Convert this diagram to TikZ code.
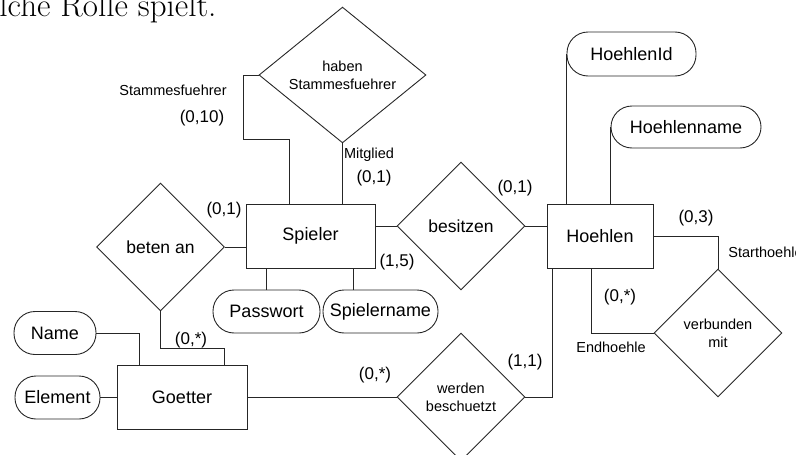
\documentclass[tikz,border=0pt]{standalone}
\usepackage{fontspec}
\usetikzlibrary{shapes.geometric}
\newfontfamily\arialf{Liberation Sans}
\begin{document}
\begin{tikzpicture}[x=1pt,y=-1pt, line width=0.9pt, draw=black!85,
  ent/.style={draw, rectangle, inner sep=0pt, font=\arialf\fontsize{18}{21}\selectfont},
  attr/.style={draw, rectangle, rounded corners=21pt, inner sep=0pt, minimum height=43pt, font=\arialf\fontsize{18}{21}\selectfont},
  rel/.style={draw, diamond, inner sep=0pt, minimum width=128pt, minimum height=128pt, align=center},
  relmain/.style={rel, font=\arialf\fontsize{17.5}{20}\selectfont},
  relsmall/.style={rel, font=\arialf\fontsize{14.5}{18}\selectfont},
  small/.style={inner sep=0pt, font=\arialf\fontsize{14.5}{17}\selectfont},
  card/.style={inner sep=0pt, font=\arialf\fontsize{17}{20}\selectfont}
]
\useasboundingbox (0,0) rectangle (796,455);

% top text
\node[anchor=base west, inner sep=0pt, font=\fontsize{33}{36}\selectfont] (toptext) at (-1,16.5) {lche Rolle spielt.};

% entities
\node[ent, minimum width=129pt, minimum height=64pt] (spieler) at (310.5,236) {Spieler};
\node[ent, minimum width=106pt, minimum height=64pt] (hoehlen) at (600,236) {Hoehlen};
\node[ent, minimum width=130pt, minimum height=64pt] (goetter) at (182,397) {Goetter};

% attributes
\node[attr, minimum width=82pt] (name) at (55,333) {Name};
\node[attr, minimum width=85pt] (element) at (57.5,397.5) {Element};
\node[attr, minimum width=107pt] (passwort) at (266.5,311.5) {Passwort};
\node[attr, minimum width=115pt] (spname) at (380.5,311.5) {Spielername};
\node[attr, minimum width=129pt, minimum height=44pt] (hid) at (631.5,54) {HoehlenId};
\node[attr, minimum width=150pt, minimum height=42pt] (hname) at (686,127) {Hoehlenname};

% relationships
\node[relsmall, minimum width=167pt] (haben) at (342.5,75) {haben\\Stammesfuehrer};
\node[relmain] (beten) at (160.5,247) {beten an};
\node[relmain] (besitzen) at (461,226) {besitzen};
\node[relsmall] (werden) at (461,397) {werden\\beschuetzt};
\node[relsmall] (verbunden) at (718,333) {verbunden\\mit};

% helper coordinates
\coordinate (c1) at (243,139);
\coordinate (k1) at (289,139);
\coordinate (c2) at (224,348);
\coordinate (c3) at (139,365);
\coordinate (c4) at (353,268);
\coordinate (c5) at (591,268);
\coordinate (c6) at (552,268);

% connectors
\draw (haben.west) -| (c1) -- (k1) -- (k1 |- spieler.north);
\draw (haben.south) -- (haben.south |- spieler.north);
\draw (beten.east) -- (beten.east -| spieler.west);
\draw (beten.south) |- (c2) -- (c2 |- goetter.north);
\draw (name.east) -| (c3);
\draw (element.east) -- (element.east -| goetter.west);
\draw (passwort.north) -- (passwort.north |- spieler.south);
\draw (c4 |- spname.north) -- (c4) -- ++(-43,0);
\draw (besitzen.west) -- (besitzen.west -| spieler.east);
\draw (besitzen.east) -- (besitzen.east -| hoehlen.west);
\draw (hid.west) -- (hid.west |- hoehlen.north);
\draw (hname.west) -- (hname.west |- hoehlen.north);
\draw (hoehlen.east) -| (verbunden.north);
\draw (c5) |- (verbunden.west);
\draw (goetter.east) -- (werden.west);
\draw (werden.east) -| (c6);

% labels
\node[small] (l1) at (173,90) {Stammesfuehrer};
\node[card] (l2) at (202,118) {(0,10)};
\node[small] (l3) at (369,155) {Mitglied};
\node[card] (l4) at (374,178) {(0,1)};
\node[card] (l5) at (224,210) {(0,1)};
\node[card] (l6) at (515,188) {(0,1)};
\node[card] (l7) at (397,262) {(1,5)};
\node[card] (l8) at (191,340) {(0,*)};
\node[card] (l9) at (375,375) {(0,*)};
\node[card] (l10) at (525,362) {(1,1)};
\node[card] (l11) at (696,218) {(0,3)};
\node[small, anchor=west] (l12) at (728,252) {Starthoehle};
\node[card] (l13) at (620,297) {(0,*)};
\node[small] (l14) at (611,347) {Endhoehle};
\end{tikzpicture}
\end{document}
